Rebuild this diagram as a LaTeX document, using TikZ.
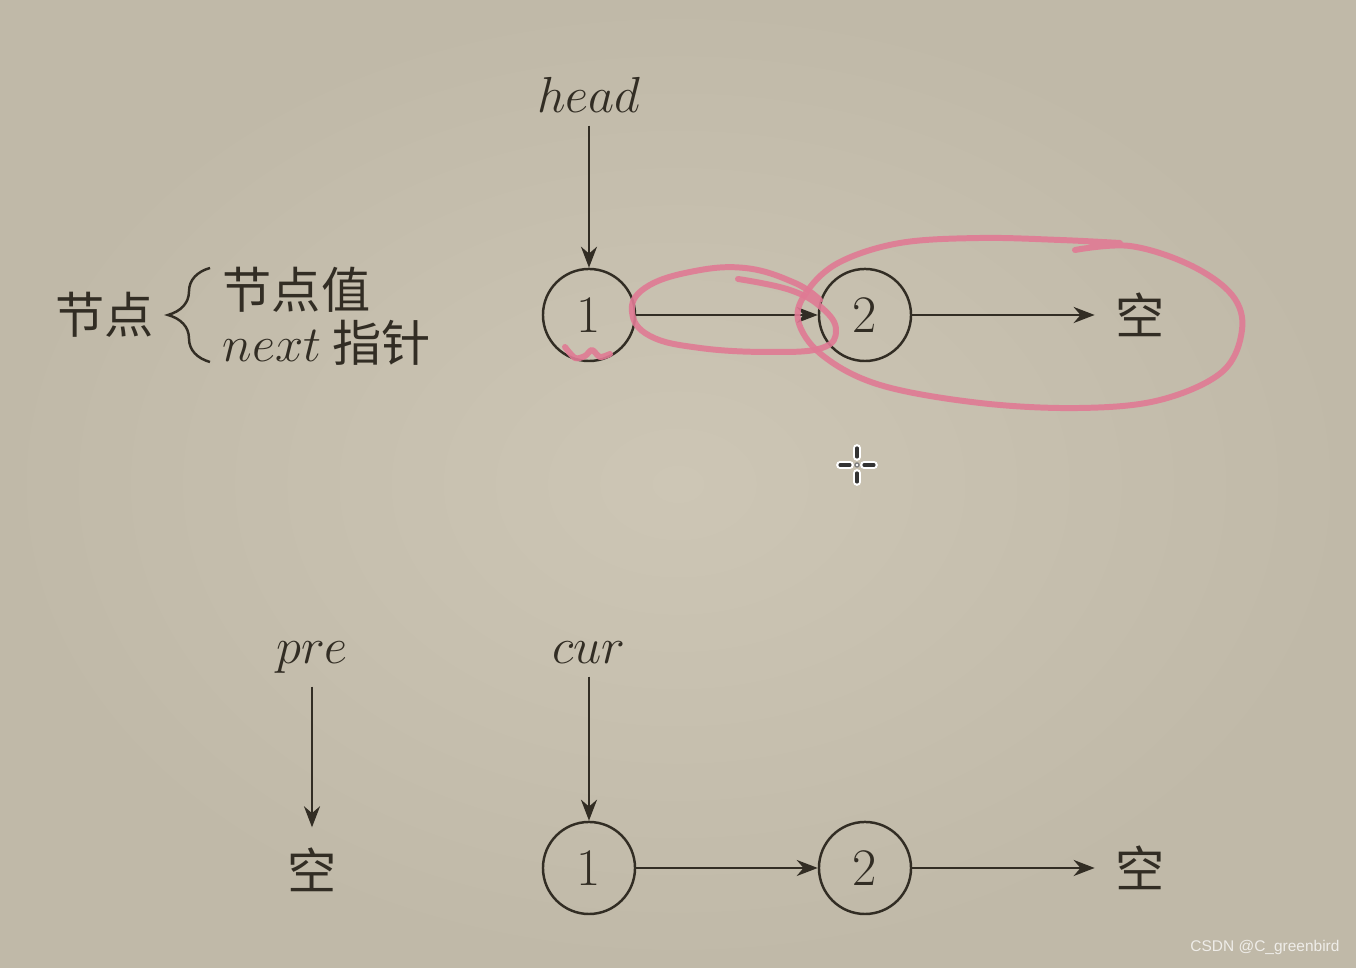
\documentclass[tikz,border=0pt]{standalone}
\usepackage{fontspec}
\newfontfamily\cjk{Noto Sans CJK SC}
\setsansfont{Liberation Sans}
\usetikzlibrary{arrows.meta, decorations.pathreplacing}

\definecolor{ink}{RGB}{50,45,36}
\definecolor{pen}{RGB}{224,122,148}
\definecolor{bgin}{RGB}{205,198,181}
\definecolor{bgout}{RGB}{192,185,168}

\begin{document}
\begin{tikzpicture}[
    x=0.01cm, y=-0.01cm,
    every node/.style={text=ink},
    >={Stealth[length=2.1mm, width=1.6mm]},
    ptr/.style={font=\fontsize{15pt}{18pt}\selectfont, inner sep=0.12cm, anchor=base},
    listnode/.style={circle, draw=ink, line width=0.7pt, minimum size=0.92cm, inner sep=0pt, font=\fontsize{15pt}{18pt}\selectfont},
    nullnode/.style={font=\cjk\fontsize{14pt}{16pt}\selectfont, inner sep=0.2cm},
    cjktext/.style={font=\cjk\fontsize{14pt}{16pt}\selectfont, inner sep=0pt},
    link/.style={->, draw=ink, line width=0.7pt},
    scribble/.style={draw=pen, line width=1.7pt, line cap=round, line join=round, opacity=0.9},
]

% --- Background ---
\useasboundingbox (0,0) rectangle (1356,968);
\shade[inner color=bgin, outer color=bgout] (0,0) rectangle (1356,968);

% --- Legend ---
\node[cjktext] (node) at (105,315) {节点};
\draw[ink, line width=0.7pt, decorate, decoration={brace, amplitude=0.42cm}] (210,362) -- (210,268);
\node[cjktext, anchor=west] (val) at (222,290) {节点值};
\node[cjktext, anchor=west] (next) at (222,343) {{\fontsize{15pt}{18pt}\selectfont$next$} 指针};

% --- Upper list ---
\node[ptr] (head) at (589,113) {$head$};
\node[listnode] (a1) at (589,315) {1};
\node[listnode] (a2) at (865,315) {2};
\node[nullnode] (anull) at (1140,315) {空};

\draw[link] (head) -- (a1);
\draw[link] (a1) -- (a2);
\draw[link] (a2) -- (anull);

% --- Lower list ---
\node[ptr] (pre) at (312,664) {$pre$};
\node[nullnode] (pnull) at (312,870) {空};
\node[ptr] (cur) at (589,664) {$cur$};
\node[listnode] (b1) at (589,868) {1};
\node[listnode] (b2) at (865,868) {2};
\node[nullnode] (bnull) at (1140,868) {空};

\draw[link] (pre) -- (pnull);
\draw[link] (cur) -- (b1);
\draw[link] (b1) -- (b2);
\draw[link] (b2) -- (bnull);

% --- Pen marks ---
\draw[scribble] plot[smooth, tension=0.7] coordinates {(738,279) (790,290) (822,308) (836,330) (822,348) (770,352) (700,348) (650,336) (632,312) (645,288) (690,272) (745,268) (795,283) (820,300)};
\draw[scribble] plot[smooth, tension=0.6] coordinates {(1075,250) (1130,246) (1190,265) (1232,295) (1242,330) (1222,372) (1160,400) (1080,408) (980,403) (880,385) (822,355) (798,320) (808,290) (840,262) (900,243) (980,238) (1060,240) (1120,243)};
\draw[scribble] plot[smooth] coordinates {(565,347) (575,358) (585,356) (592,350) (600,357) (610,354)};

% --- Cursor ---
\foreach \xa/\ya/\xb/\yb in {857/448/857/457, 857/473/857/482, 840/465/850/465, 864/465/874/465} {
    \draw[white, line width=2.2pt, line cap=round] (\xa,\ya) -- (\xb,\yb);
    \draw[black!80, line width=0.9pt, line cap=round] (\xa,\ya) -- (\xb,\yb);
}
\draw[black!50, line width=0.4pt, fill=white] (857,465) circle (2);

% --- Watermark ---
\node[font=\sffamily\fontsize{4.4pt}{5pt}\selectfont, text=white!75!bgout] (wm) at (1265,948) {CSDN @C\_greenbird};

\end{tikzpicture}
\end{document}
